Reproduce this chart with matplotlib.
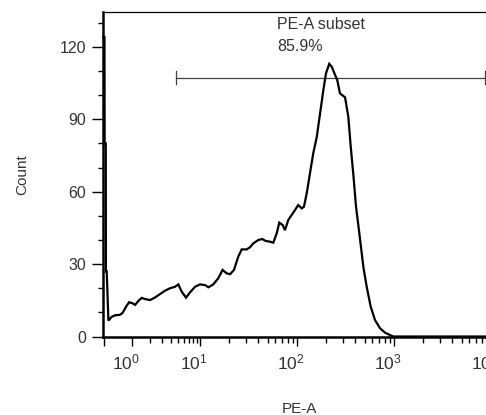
import numpy as np
import matplotlib
matplotlib.use("Agg")
import matplotlib.pyplot as plt
import matplotlib.transforms as mtransforms
from matplotlib.ticker import FixedLocator, FixedFormatter, NullFormatter

plt.rcParams['font.family'] = ['Liberation Sans', 'DejaVu Sans']
plt.rcParams['mathtext.fontset'] = 'custom'
plt.rcParams['mathtext.rm'] = 'Liberation Sans'
plt.rcParams['mathtext.it'] = 'Liberation Sans:italic'
plt.rcParams['mathtext.bf'] = 'Liberation Sans:bold'

# ---------------- data ----------------
pe_values = [-0.02, 0.02, 0.025, 0.06, 0.065, 0.09,
             0.143, 0.252, 0.359, 0.529, 0.626, 0.752, 0.872, 1.01, 1.14, 1.30,
             1.48, 1.68, 2.0, 2.37, 2.80, 3.30, 3.87, 4.55, 5.05, 5.62,
             6.44, 7.31, 8.55, 10.0, 11.3, 12.2, 13.7, 15.4, 17.1, 18.8,
             20.4, 22.4, 24.8, 26.9, 30.3, 32.8, 35.4, 39.9, 43.9, 47.5,
             52.7, 57.0, 61.8, 65.7, 71.2, 75.2, 81.3, 88.2, 95.3, 103,
             112, 118, 126, 136, 147, 160, 173, 187, 199, 215,
             228, 247, 260, 277, 313, 338, 358, 380, 406, 439,
             483, 523, 575, 637, 718, 807, 910, 984, 1200, 10000]
counts = [124, 124, 80, 80, 27, 27,
          6.6, 8.2, 8.8, 9.0, 9.9, 12.4, 14.2, 13.8, 13.1, 14.8,
          16.0, 15.5, 15.1, 16.2, 17.6, 19.0, 20.0, 20.6, 21.6, 18.6,
          16.1, 18.3, 20.6, 21.6, 21.3, 20.4, 21.6, 24.1, 27.6, 26.2,
          25.8, 27.6, 33.1, 36.1, 36.1, 37.0, 38.6, 40.0, 40.4, 39.6,
          39.3, 38.9, 42.8, 47.2, 46.2, 44.1, 48.3, 50.4, 52.4, 54.5,
          53.1, 53.8, 59.4, 67.6, 75.9, 82.8, 92.5, 102.2, 109.1, 113.0,
          111.8, 108.4, 106.3, 100.8, 99.1, 91.1, 78.7, 67.6, 53.8, 42.8,
          28.9, 20.6, 12.4, 6.8, 3.4, 1.6, 0.6, 0, 0, 0]

gate_range = [4.7, 8670]
gate_level = 107.2
gate_name = "PE-A subset"
gate_pct = "85.9%"

x_major = [0, 1, 10, 100, 1000, 10000]
x_major_labels = ['', r'$\mathregular{10^{0}}$', r'$\mathregular{10^{1}}$',
                  r'$\mathregular{10^{2}}$', r'$\mathregular{10^{3}}$',
                  r'$\mathregular{10^{4}}$']
x_minor = [m * d for d in [1, 10, 100, 1000] for m in range(2, 10)]
y_major = [0, 30, 60, 90, 120]
y_minor = [10, 20, 40, 50, 70, 80, 100, 110, 130]

# ---------------- biexponential-like display scale ----------------
A10 = np.arcsinh(10.0)
A1 = np.arcsinh(1.0)
K = 0.70 / (A10 - A1)


def fwd(x):
    x = np.asarray(x, dtype=float)
    hi = np.log10(np.clip(x, 1e-12, None))
    lo = 1.0 - K * (A10 - np.arcsinh(x))
    return np.where(x >= 10, hi, lo)


def inv(y):
    y = np.asarray(y, dtype=float)
    hi = 10.0 ** np.clip(y, -20, 20)
    lo = np.sinh(A10 - (1.0 - y) / K)
    return np.where(y >= 1, hi, lo)


fig = plt.figure(figsize=(4.86, 4.15), dpi=100)
ax = fig.add_axes([103 / 486, 78.5 / 415, 388 / 486, 324.5 / 415])
ax.set_xscale('function', functions=(fwd, inv))
ax.set_xlim(-0.026, 10000)
ax.set_ylim(0, 134.5)

ax.plot(pe_values, counts, color='black', lw=1.6, solid_joinstyle='miter',
        clip_on=False, zorder=3)

# gate
gc = '#404040'
ax.plot(gate_range, [gate_level, gate_level], color=gc, lw=0.9, zorder=2)
for gx in gate_range:
    ax.plot([gx, gx], [gate_level - 2.7, gate_level + 2.7], color=gc, lw=0.9,
            zorder=2)
ax.text(62, 132.6, gate_name, fontsize=11.5, color='#333333', va='top',
        ha='left')
ax.text(62, 123.4, gate_pct, fontsize=11.5, color='#333333', va='top',
        ha='left')

# spines
ax.spines['right'].set_visible(False)
ax.spines['left'].set_linewidth(1.8)
ax.spines['bottom'].set_linewidth(1.8)
ax.spines['top'].set_linewidth(0.9)

# ticks
ax.xaxis.set_major_locator(FixedLocator(x_major))
ax.xaxis.set_major_formatter(FixedFormatter(x_major_labels))
ax.xaxis.set_minor_locator(FixedLocator(x_minor))
ax.xaxis.set_minor_formatter(NullFormatter())
ax.yaxis.set_major_locator(FixedLocator(y_major))
ax.yaxis.set_minor_locator(FixedLocator(y_minor))
ax.yaxis.set_minor_formatter(NullFormatter())

ax.tick_params(axis='y', which='major', length=8, width=1.0, direction='out',
               pad=4, labelsize=11.5, labelcolor='#333333')
ax.tick_params(axis='y', which='minor', length=3.8, width=1.0, direction='out')
ax.tick_params(axis='x', which='major', length=6.5, width=1.0, direction='out',
               pad=5, labelsize=12.5, labelcolor='#333333')
ax.tick_params(axis='x', which='minor', length=4.3, width=1.0, direction='out')

ax.set_ylabel('Count', fontsize=11, color='#333333')
ax.yaxis.set_label_coords(-0.19, 0.5)
ax.set_xlabel('PE-A', fontsize=11, color='#333333')
ax.xaxis.set_label_coords(0.505, -0.203)

fig.canvas.draw()
shift = mtransforms.ScaledTranslation(-6 / 100, 0, fig.dpi_scale_trans)
for lbl in ax.get_xticklabels():
    lbl.set_transform(lbl.get_transform() + shift)

fig.savefig('out.png', dpi=100)
